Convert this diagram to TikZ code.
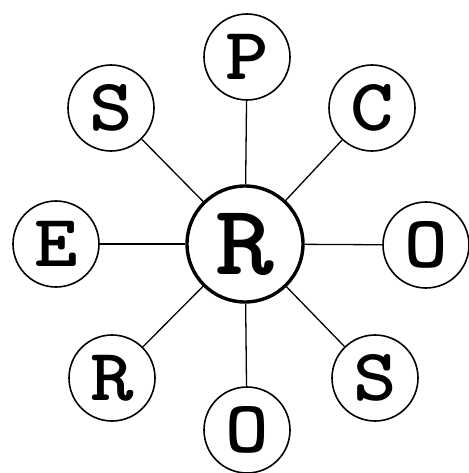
\documentclass[tikz,border=0pt]{standalone}
\newcommand\wl[1]{\scalebox{1.12}[1]{#1}}

\begin{document}
\begin{tikzpicture}[x=1pt,y=-1pt,
  leaf/.style={circle,draw,line width=1.6pt,minimum size=86pt,inner sep=0pt,
    font=\ttfamily\bfseries\fontsize{74}{74}\selectfont},
  hub/.style={circle,draw,line width=3.4pt,minimum size=116pt,inner sep=0pt,
    font=\ttfamily\bfseries\fontsize{100}{100}\selectfont},
  spoke/.style={line width=1.3pt}]
\useasboundingbox (0,0) rectangle (468,473);

\node[hub] (hub) at (245,244) {\wl{R}};

\node[leaf] (p)  at (247,57)  {\wl{P}};
\node[leaf] (c)  at (372,108) {\wl{C}};
\node[leaf] (o1) at (426,245) {\wl{O}};
\node[leaf] (s1) at (375,378) {\wl{S}};
\node[leaf] (o2) at (247,430) {\wl{O}};
\node[leaf] (r)  at (112,378) {\wl{R}};
\node[leaf] (e)  at (56,244)  {\wl{E}};
\node[leaf] (s2) at (111,108) {\wl{S}};

\foreach \n in {p,c,o1,s1,o2,r,e,s2}
  \draw[spoke] (hub) -- (\n);
\end{tikzpicture}
\end{document}
